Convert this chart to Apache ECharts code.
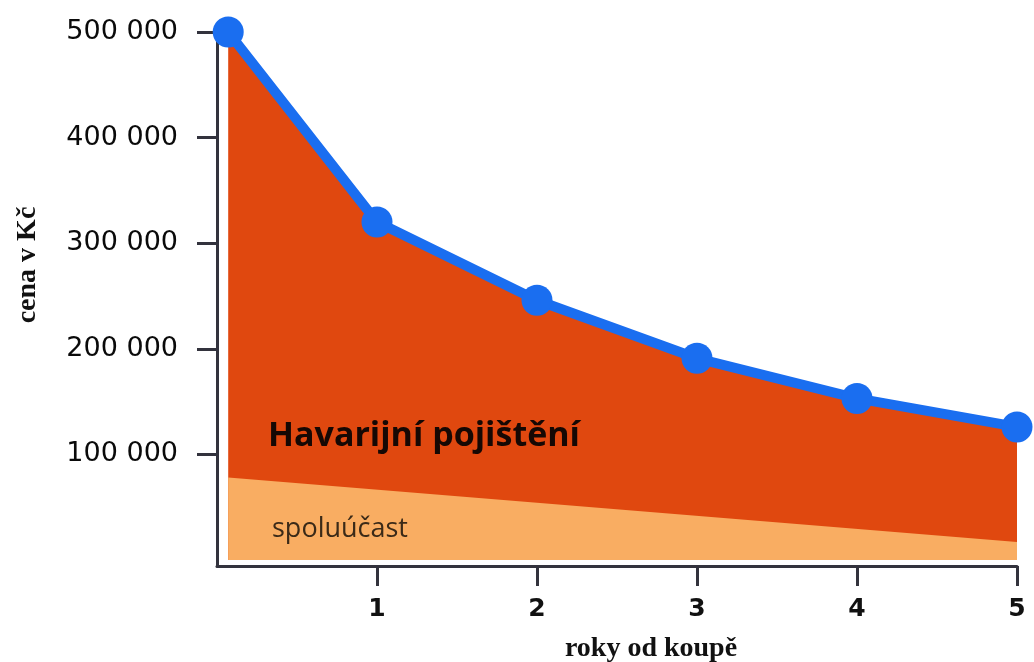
<!DOCTYPE html>
<html>
<head>
<meta charset="utf-8">
<script src="https://cdn.jsdelivr.net/npm/echarts@6/dist/echarts.min.js"></script>
<style>
  html, body { margin: 0; padding: 0; background: #fff; }
  #main { width: 1034px; height: 662px; }
</style>
</head>
<body>
<div id="main"></div>
<script>
// roky od koupě (první bod je v obrázku lehce posunutý od osy)
const years = [0.07, 1, 2, 3, 4, 5];
// cena vozu v Kč
const price = [500000, 320000, 246000, 191000, 153000, 126000];
// spoluúčast - přímka od začátku do konce
const deductYears = [0.07, 5];
const deduct = [78000, 17000];

const xTicks = [1, 2, 3, 4, 5];
const yTicks = [100000, 200000, 300000, 400000, 500000];
const yTickLabels = ["100 000", "200 000", "300 000", "400 000", "500 000"];

const chart = echarts.init(document.getElementById("main"));

chart.setOption({
  animation: false,
  grid: { left: 217, right: 17, top: 32, bottom: 96 },
  xAxis: {
    type: "value",
    min: 0,
    max: 5,
    axisLine: { onZero: false, lineStyle: { color: "#33333d", width: 3 } },
    axisTick: {
      customValues: xTicks,
      length: 20,
      lineStyle: { color: "#33333d", width: 3 }
    },
    axisLabel: {
      customValues: xTicks,
      margin: 31,
      color: "#111",
      fontSize: 25,
      fontWeight: "bold",
      fontFamily: "DejaVu Sans"
    },
    splitLine: { show: false }
  },
  yAxis: {
    type: "value",
    min: -5700,
    max: 500000,
    axisLine: { show: true, onZero: false, lineStyle: { color: "#33333d", width: 3 } },
    axisTick: {
      show: true,
      customValues: yTicks,
      length: 20,
      lineStyle: { color: "#33333d", width: 3 }
    },
    axisLabel: {
      customValues: yTicks,
      margin: 39,
      color: "#0a0a0a",
      fontSize: 27,
      fontFamily: "DejaVu Sans",
      formatter: function (v) {
        const i = yTicks.indexOf(v);
        return i >= 0 ? yTickLabels[i] : "";
      }
    },
    splitLine: { show: false }
  },
  series: [
    {
      name: "Havarijní pojištění",
      type: "line",
      data: years.map((x, i) => [x, price[i]]),
      clip: false,
      z: 2,
      symbol: "circle",
      symbolSize: 31,
      itemStyle: { color: "#1a6ef0" },
      lineStyle: { color: "#1a6ef0", width: 10 },
      areaStyle: { color: "#e0480f", opacity: 1 }
    },
    {
      name: "spoluúčast",
      type: "line",
      data: deductYears.map((x, i) => [x, deduct[i]]),
      z: 3,
      symbol: "none",
      lineStyle: { width: 0 },
      areaStyle: { color: "#f9ad62", opacity: 1 }
    }
  ],
  graphic: [
    {
      type: "text",
      left: 268,
      top: 419,
      z: 10,
      style: {
        text: "Havarijní pojištění",
        fill: "#160804",
        font: "bold 34px 'Open Sans'"
      }
    },
    {
      type: "text",
      left: 272,
      top: 516,
      z: 10,
      style: {
        text: "spoluúčast",
        fill: "#3b2a18",
        font: "27px 'Open Sans'"
      }
    },
    {
      type: "text",
      x: 651,
      y: 649,
      style: {
        text: "roky od koupě",
        fill: "#111",
        font: "bold 28px 'Liberation Serif'",
        align: "center",
        verticalAlign: "middle"
      }
    },
    {
      type: "text",
      x: 28,
      y: 265,
      rotation: Math.PI / 2,
      style: {
        text: "cena v Kč",
        fill: "#111",
        font: "bold 28px 'Liberation Serif'",
        align: "center",
        verticalAlign: "middle"
      }
    }
  ]
});
</script>
</body>
</html>
